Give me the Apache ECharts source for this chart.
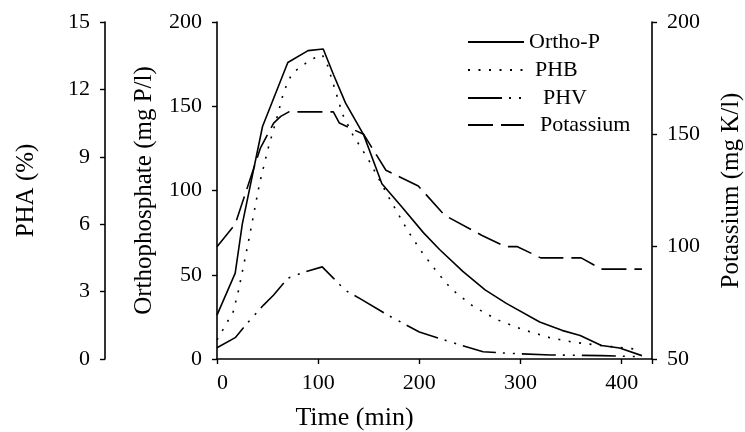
<!DOCTYPE html>
<html>
<head>
<meta charset="utf-8">
<script src="https://cdn.jsdelivr.net/npm/echarts@6/dist/echarts.min.js"></script>
<style>
  html, body { margin: 0; padding: 0; background: #fff; }
  #chart { width: 745px; height: 432px; }
</style>
</head>
<body>
<div id="chart"></div>
<script>
const timeOrtho = [0, 18, 25, 45, 70, 90, 105, 115, 127, 145, 163, 183, 204, 220, 243, 265, 286, 319, 341, 359, 380, 398, 420];
const orthoP = [26, 51, 80, 138, 176, 183, 184, 169, 152, 133, 104, 90, 75, 65, 52, 41, 33, 22, 17, 14, 8, 6.5, 2];

const timePHB = [0, 16, 21, 31, 42, 51, 59, 66, 74, 84, 94, 104, 109, 117, 124, 134, 150, 171, 188, 201, 217, 232, 253, 277, 303, 329, 352, 380, 418];
const phb = [0.85, 2.1, 3.0, 5.2, 7.8, 9.45, 10.7, 11.9, 12.7, 13.05, 13.35, 13.55, 13.1, 11.95, 10.9, 10.0, 8.85, 7.1, 5.75, 4.85, 3.9, 3.1, 2.35, 1.75, 1.3, 0.95, 0.75, 0.6, 0.42];

const timePHV = [0, 18, 30, 46, 56, 70, 85, 104, 115, 127, 141, 169, 200, 230, 263, 290, 330, 380, 420];
const phv = [0.5, 0.95, 1.6, 2.4, 2.85, 3.6, 3.85, 4.1, 3.6, 3.05, 2.7, 1.95, 1.2, 0.77, 0.32, 0.25, 0.18, 0.15, 0.1];

const timeK = [0, 18, 43, 56, 63, 71, 115, 121, 145, 167, 199, 225, 262, 285, 297, 320, 360, 380, 420];
const potassium = [100, 110, 144, 155, 158, 160, 160, 155, 150, 134, 127, 114, 105, 100, 100, 95, 95, 90, 90];

const seriesNames = ['Ortho-P', 'PHB', 'PHV', 'Potassium'];

const FONT = "'Liberation Serif', 'Times New Roman', serif";
const INK = '#000';

const zip = (xs, ys) => xs.map((x, i) => [x, ys[i]]);

const chart = echarts.init(document.getElementById('chart'));

const axisCommon = {
    axisLine: { show: true, onZero: false, lineStyle: { color: INK, width: 1.6 } },
    axisTick: { show: true, inside: false, length: 5, lineStyle: { color: INK, width: 1.4 } },
    splitLine: { show: false },
    axisLabel: { color: INK, fontFamily: FONT, fontSize: 22, margin: 15 },
    nameTextStyle: { color: INK, fontFamily: FONT, fontSize: 25 },
    nameLocation: 'middle'
};

const lineSeries = (name, data, yAxisIndex, type) => ({
    name: name,
    type: 'line',
    yAxisIndex: yAxisIndex,
    data: data,
    symbol: 'none',
    smooth: false,
    lineStyle: { color: INK, width: 1.6, type: type },
    itemStyle: { color: INK }
});

// legend rows: top edge and extra text indent
const legendTops = [31, 59, 87, 114];
const legendIndent = [0, 6, 14, 11];

const option = {
    animation: false,
    backgroundColor: '#fff',
    grid: { left: 217, right: 93, top: 22, bottom: 73, containLabel: false, outerBoundsMode: 'none' },
    legend: seriesNames.map((n, i) => ({
        data: [n],
        left: 467,
        top: legendTops[i],
        padding: 0,
        itemWidth: 56,
        itemHeight: 14,
        itemGap: 0,
        selectedMode: false,
        itemStyle: { opacity: 0 },
        textStyle: { color: INK, fontFamily: FONT, fontSize: 22, padding: [0, 0, 0, legendIndent[i]] }
    })),
    xAxis: Object.assign({}, axisCommon, {
        type: 'value',
        min: 0,
        max: 430,
        interval: 100,
        name: 'Time (min)',
        nameGap: 46,
        nameTextStyle: Object.assign({}, axisCommon.nameTextStyle, { fontSize: 26, padding: [0, 160, 0, 0] }),
        axisLabel: Object.assign({}, axisCommon.axisLabel, {
            margin: 13,
            alignMinLabel: 'left',
            formatter: v => (v % 100 === 0 ? String(v) : '')
        })
    }),
    yAxis: [
        Object.assign({}, axisCommon, {
            type: 'value',
            position: 'left',
            offset: 112,
            min: 0,
            max: 15,
            interval: 3,
            name: 'PHA (%)',
            nameGap: 66,
            nameRotate: 90
        }),
        Object.assign({}, axisCommon, {
            type: 'value',
            position: 'left',
            min: 0,
            max: 200,
            interval: 50,
            name: 'Orthophosphate (mg P/l)',
            nameGap: 60,
            nameRotate: 90
        }),
        Object.assign({}, axisCommon, {
            type: 'value',
            position: 'right',
            min: 50,
            max: 200,
            interval: 50,
            name: 'Potassium (mg K/l)',
            nameGap: 67,
            nameRotate: 90
        })
    ],
    series: [
        lineSeries('Ortho-P', zip(timeOrtho, orthoP), 1, 'solid'),
        lineSeries('PHB', zip(timePHB, phb), 0, [2, 8.5]),
        lineSeries('PHV', zip(timePHV, phv), 0, [34, 7, 2, 8, 2, 7]),
        lineSeries('Potassium', zip(timeK, potassium), 2, [25, 8])
    ]
};

chart.setOption(option);
</script>
</body>
</html>
